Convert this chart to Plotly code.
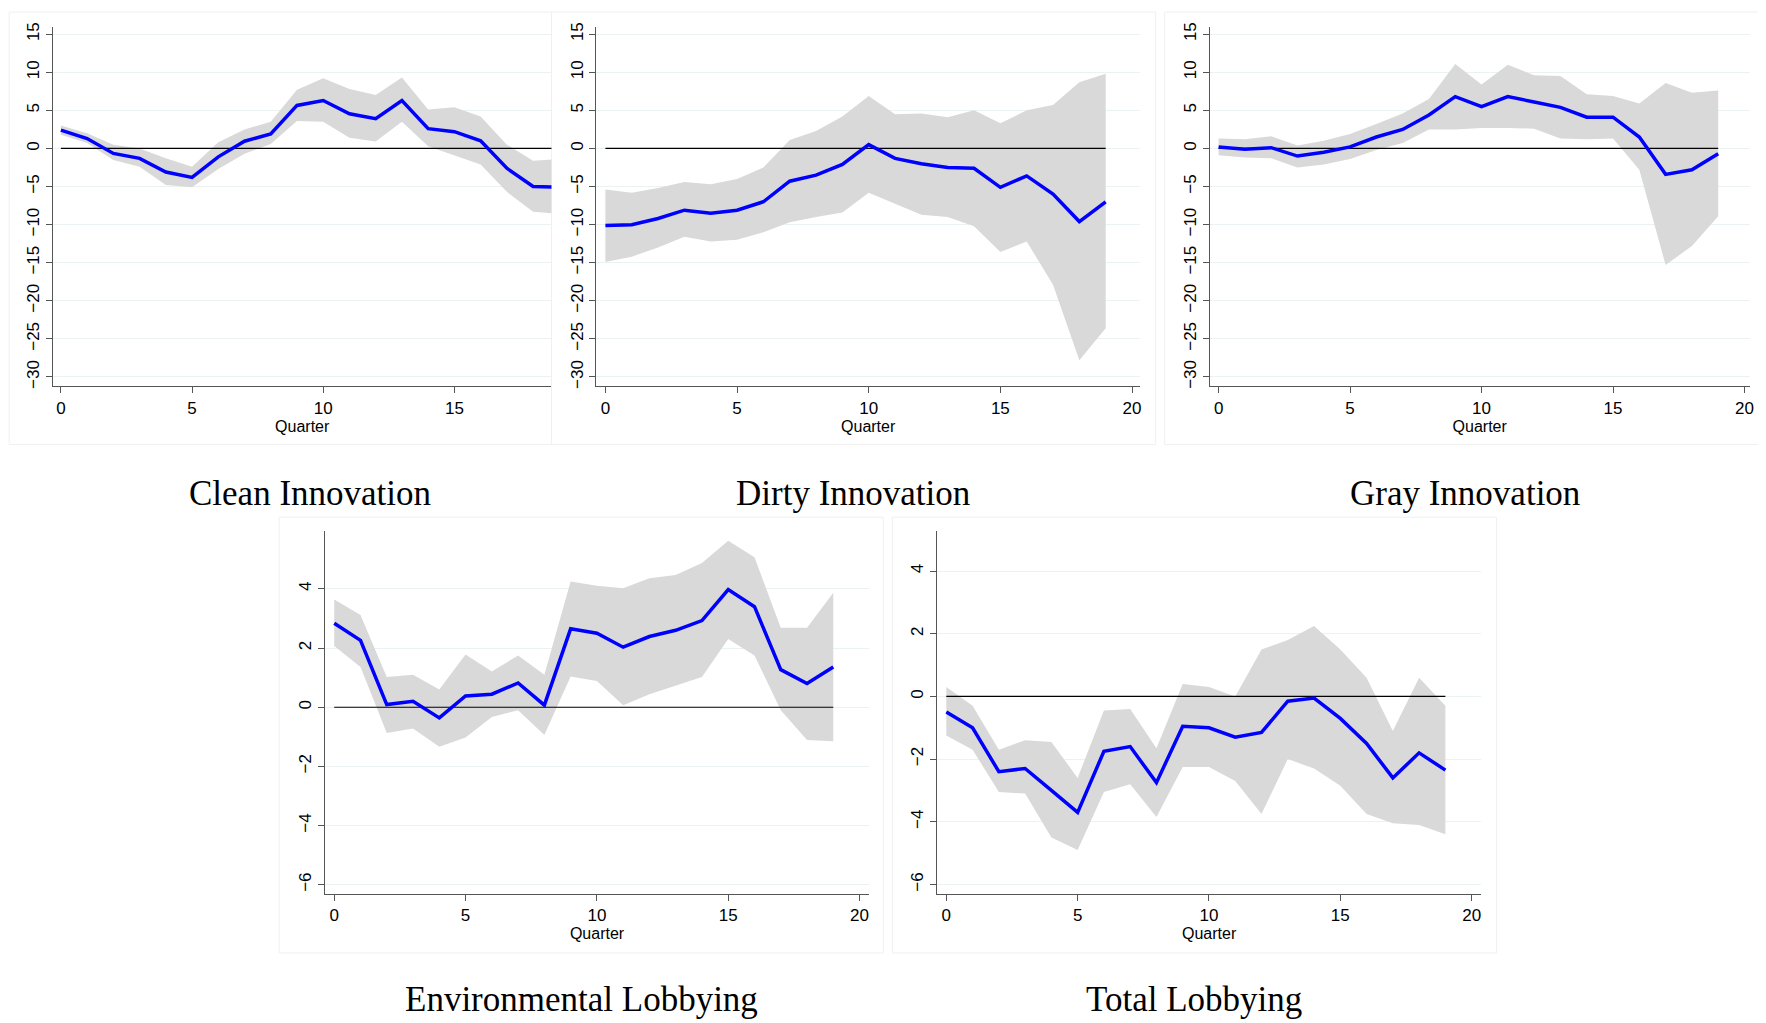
import plotly.graph_objects as go

quarters = list(range(20))

clean_est = [2.4, 1.3, -0.65, -1.3, -3.1, -3.8, -1.1, 0.95, 1.9, 5.65, 6.3, 4.55, 3.9, 6.3, 2.6, 2.2, 1.0, -2.6, -5.0, -5.1]
clean_hi = [3.0, 2.0, 0.5, 0.0, -1.3, -2.4, 0.8, 2.5, 3.5, 7.7, 9.2, 7.8, 7.0, 9.3, 5.1, 5.4, 4.2, 0.5, -1.6, -1.4]
clean_lo = [1.8, 0.7, -1.5, -2.4, -4.8, -5.1, -2.7, -0.7, 0.6, 3.6, 3.5, 1.4, 0.9, 3.5, 0.3, -0.9, -2.1, -5.7, -8.3, -8.6]

dirty_est = [-10.1, -10.0, -9.2, -8.1, -8.5, -8.1, -7.0, -4.3, -3.5, -2.1, 0.5, -1.3, -2.0, -2.5, -2.6, -5.1, -3.6, -6.0, -9.6, -7.0]
dirty_hi = [-5.4, -5.8, -5.2, -4.4, -4.7, -4.0, -2.5, 1.1, 2.3, 4.2, 6.9, 4.5, 4.6, 4.1, 5.0, 3.3, 5.0, 5.7, 8.7, 9.8]
dirty_lo = [-14.9, -14.2, -13.0, -11.6, -12.2, -12.0, -11.0, -9.7, -9.0, -8.4, -5.8, -7.2, -8.7, -9.0, -10.2, -13.6, -12.2, -17.9, -27.8, -23.6]

gray_est = [0.2, -0.1, 0.1, -1.0, -0.5, 0.2, 1.5, 2.5, 4.4, 6.8, 5.5, 6.8, 6.1, 5.4, 4.1, 4.1, 1.5, -3.4, -2.8, -0.7]
gray_hi = [1.3, 1.2, 1.6, 0.4, 1.0, 1.9, 3.2, 4.6, 6.5, 11.1, 8.4, 11.0, 9.6, 9.5, 7.1, 6.9, 5.9, 8.6, 7.3, 7.6]
gray_lo = [-0.9, -1.2, -1.3, -2.5, -2.1, -1.4, -0.2, 0.7, 2.5, 2.5, 2.7, 2.7, 2.6, 1.3, 1.2, 1.3, -2.8, -15.3, -12.8, -8.9]

env_est = [2.84, 2.26, 0.09, 0.2, -0.36, 0.38, 0.44, 0.82, 0.07, 2.65, 2.5, 2.03, 2.39, 2.6, 2.93, 3.98, 3.4, 1.27, 0.8, 1.36]
env_hi = [3.64, 3.12, 1.02, 1.1, 0.6, 1.78, 1.21, 1.75, 1.1, 4.25, 4.11, 4.02, 4.36, 4.47, 4.88, 5.63, 5.07, 2.69, 2.69, 3.87]
env_lo = [2.07, 1.36, -0.87, -0.72, -1.34, -1.02, -0.33, -0.1, -0.94, 1.04, 0.89, 0.07, 0.44, 0.72, 1.02, 2.31, 1.75, -0.1, -1.11, -1.15]

tot_est = [-0.5, -1.0, -2.4, -2.3, -3.0, -3.7, -1.75, -1.6, -2.75, -0.95, -1.0, -1.3, -1.15, -0.15, -0.05, -0.7, -1.5, -2.6, -1.8, -2.35]
tot_hi = [0.3, -0.3, -1.7, -1.4, -1.45, -2.6, -0.45, -0.4, -1.65, 0.4, 0.3, 0.0, 1.5, 1.8, 2.25, 1.5, 0.6, -1.1, 0.6, -0.3]
tot_lo = [-1.25, -1.7, -3.05, -3.1, -4.5, -4.9, -3.05, -2.8, -3.85, -2.25, -2.25, -2.7, -3.75, -2.0, -2.3, -2.85, -3.75, -4.05, -4.1, -4.4]

titles = ["Clean Innovation", "Dirty Innovation", "Gray Innovation", "Environmental Lobbying", "Total Lobbying"]
x_ticks = [0, 5, 10, 15, 20]
innov_ticks = [15, 10, 5, 0, -5, -10, -15, -20, -25, -30]
lobby_ticks = [4, 2, 0, -2, -4, -6]

W, H = 1566.0, 907.0
DX, DY = -7, -7
panels = [
    dict(est=clean_est, hi=clean_hi, lo=clean_lo, px=(47, 490), py=(20, 341), xr=[-0.3, 18.7], yr=[-31.2, 16], yt=innov_ticks, frame=(8, 490, 5, 393), tx=275, ty=437),
    dict(est=dirty_est, hi=dirty_hi, lo=dirty_lo, px=(530, 1013), py=(20, 341), xr=[-0.34, 20.3], yr=[-31.2, 16], yt=innov_ticks, frame=(490, 1027, 5, 393), tx=758, ty=437),
    dict(est=gray_est, hi=gray_hi, lo=gray_lo, px=(1075, 1555), py=(20, 341), xr=[-0.34, 20.2], yr=[-31.2, 16], yt=innov_ticks, frame=(1035, 1565, 5, 393), tx=1302, ty=437),
    dict(est=env_est, hi=env_hi, lo=env_lo, px=(289, 772), py=(470, 794), xr=[-0.34, 20.35], yr=[-6.3, 5.97], yt=lobby_ticks, frame=(248, 785, 458, 847), tx=517, ty=889),
    dict(est=tot_est, hi=tot_hi, lo=tot_lo, px=(833, 1316), py=(470, 794), xr=[-0.34, 20.35], yr=[-6.29, 5.29], yt=lobby_ticks, frame=(793, 1330, 458, 847), tx=1061, ty=889),
]

def fx(v):
    return min(max((v + DX) / W, 0), 1)

def fy(v):
    return min(max(1 - (v + DY) / H, 0), 1)

fig = go.Figure()
shapes, annos = [], []
for i, p in enumerate(panels):
    n = "" if i == 0 else str(i + 1)
    xa, ya = "x" + n, "y" + n
    fig.add_trace(go.Scatter(x=quarters, y=p["lo"], mode="lines", line=dict(width=0), xaxis=xa, yaxis=ya, hoverinfo="skip", showlegend=False))
    fig.add_trace(go.Scatter(x=quarters, y=p["hi"], mode="lines", line=dict(width=0), fill="tonexty", fillcolor="#d9d9d9", xaxis=xa, yaxis=ya, showlegend=False))
    fig.add_trace(go.Scatter(x=[0, 19], y=[0, 0], mode="lines", line=dict(color="black", width=1.2), xaxis=xa, yaxis=ya, showlegend=False))
    fig.add_trace(go.Scatter(x=quarters, y=p["est"], mode="lines", line=dict(color="#0000ff", width=3.5), xaxis=xa, yaxis=ya, showlegend=False))
    common = dict(showline=True, linecolor="#555555", linewidth=1.2, ticks="outside", ticklen=6, tickcolor="#555555",
                  tickfont=dict(family="Liberation Sans, Arial", size=17, color="black"), zeroline=False)
    fig.layout["xaxis" + n] = dict(domain=[fx(p["px"][0]), fx(p["px"][1])], range=p["xr"], tickvals=x_ticks, showgrid=False,
                                   anchor=ya, title=dict(text="Quarter", font=dict(family="Liberation Sans, Arial", size=16, color="black"), standoff=2), **common)
    fig.layout["yaxis" + n] = dict(domain=[fy(p["py"][1]), fy(p["py"][0])], range=p["yr"], tickvals=p["yt"], tickangle=-90,
                                   showgrid=True, gridcolor="#eaf2f4", gridwidth=1, anchor=xa, **common)
    f = p["frame"]
    shapes.append(dict(type="rect", xref="paper", yref="paper", x0=fx(f[0]), x1=fx(f[1]), y0=fy(f[3]), y1=fy(f[2]),
                       line=dict(color="#f0f0f0", width=1), layer="below"))
    annos.append(dict(text=titles[i], xref="paper", yref="paper", x=fx(p["tx"]), y=fy(p["ty"]), showarrow=False,
                      font=dict(family="Liberation Serif, Times New Roman", size=35, color="black"), xanchor="center", yanchor="middle"))

fig.update_layout(width=1766, height=1023, margin=dict(l=0, r=0, t=0, b=0), plot_bgcolor="white", paper_bgcolor="white",
                  shapes=shapes, annotations=annos)
fig.write_html("out.html")
